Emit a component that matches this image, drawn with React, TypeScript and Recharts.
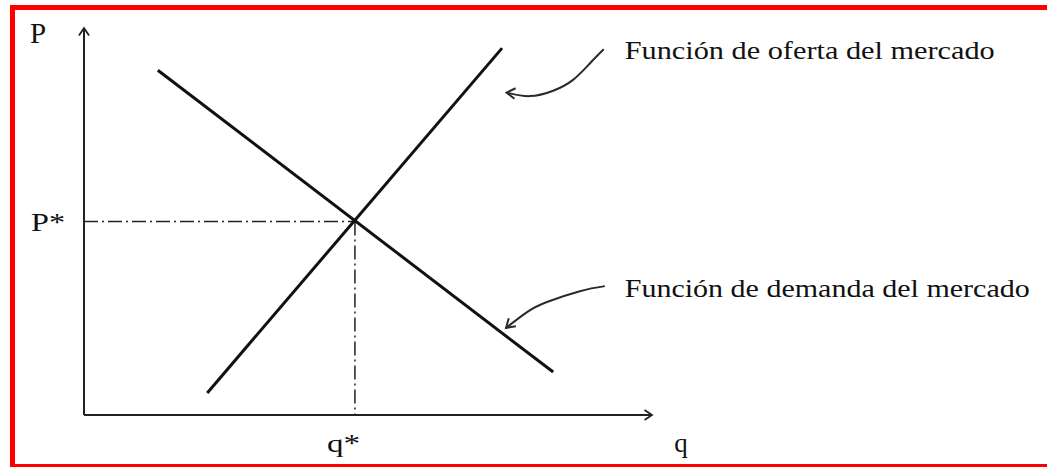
import React from "react";
import {
  ComposedChart,
  Line,
  XAxis,
  YAxis,
  ReferenceLine,
  ReferenceDot,
} from "recharts";

// ---- data (in chart units: q on x, P on y) ----
const Q_MAX = 10;
const P_MAX = 10;
const Q_STAR = 4.77;
const P_STAR = 5.0;

const supplyQ = [2.17, 7.36];
const supplyP = [0.57, 9.48];
const demandQ = [1.3, 8.26];
const demandP = [8.91, 1.11];

const supplyNoteQ = [9.15, 8.91, 8.61, 8.26, 7.85, 7.44];
const supplyNoteP = [9.45, 9.09, 8.66, 8.38, 8.24, 8.33];
const demandNoteQ = [9.17, 8.73, 8.15, 7.8, 7.43];
const demandNoteP = [3.33, 3.2, 2.92, 2.66, 2.25];

const supplyText = "Función de oferta del mercado";
const demandText = "Función de demanda del mercado";
const supplyTextPos = [9.52, 9.2];
const demandTextPos = [9.52, 3.05];
const pAxisLabel = "P";
const qAxisLabel = "q";
const pAxisLabelPos = [-0.81, 9.6];
const qAxisLabelPos = [10.51, -0.96];
const pStarLabel = "P*";
const qStarLabel = "q*";

const toRows = (qs: number[], ps: number[]) =>
  qs.map((q, i) => ({ q, p: ps[i] }));

const supplyData = toRows(supplyQ, supplyP);
const demandData = toRows(demandQ, demandP);
const supplyNoteData = toRows(supplyNoteQ, supplyNoteP);
const demandNoteData = toRows(demandNoteQ, demandNoteP);

const FONT = "Liberation Serif";
const INK = "#111";

const chevron = (cx: number, cy: number, deg: number, len: number, half: number) => {
  const t = (deg * Math.PI) / 180;
  const h = (half * Math.PI) / 180;
  const ax = cx - len * Math.cos(t + h);
  const ay = cy - len * Math.sin(t + h);
  const bx = cx - len * Math.cos(t - h);
  const by = cy - len * Math.sin(t - h);
  return `M${ax},${ay} L${cx},${cy} L${bx},${by}`;
};

const arrowDot = (count: number, deg: number) => (props: any) => {
  const { cx, cy, index } = props;
  if (index !== count - 1) return <g key={`d${index}`} />;
  return (
    <path
      key={`d${index}`}
      d={chevron(cx, cy, deg, 10, 32)}
      fill="none"
      stroke="#2a2a2a"
      strokeWidth={2}
    />
  );
};

const axisHead = (deg: number) => (props: any) => (
  <path
    d={chevron(props.cx, props.cy, deg, 9, 34)}
    fill="none"
    stroke="#222"
    strokeWidth={1.8}
  />
);

const textShape = (txt: string, size: number, anchor: string, length?: number) => (props: any) => (
  <text
    x={props.cx}
    y={props.cy}
    style={{ fontFamily: FONT }}
    fontSize={size}
    fill={INK}
    textAnchor={anchor}
    {...(length ? { textLength: length, lengthAdjust: "spacingAndGlyphs" } : {})}
  >
    {txt}
  </text>
);

const YTick = (props: any) => (
  <text
    x={props.x - 34}
    y={props.y + 9}
    style={{ fontFamily: FONT }}
    fontSize={25}
    fill={INK}
    textAnchor="start"
    textLength={34}
    lengthAdjust="spacingAndGlyphs"
  >
    {pStarLabel}
  </text>
);

const XTick = (props: any) => (
  <text
    x={props.x - 28}
    y={props.y}
    style={{ fontFamily: FONT }}
    fontSize={25}
    fill={INK}
    textAnchor="start"
    textLength={33}
    lengthAdjust="spacingAndGlyphs"
  >
    {qStarLabel}
  </text>
);

export default function App() {
  return (
    <div
      style={{
        position: "fixed",
        left: 0,
        top: 0,
        width: 1047,
        height: 467,
        overflow: "hidden",
        background: "#fff",
      }}
    >
      <div
        style={{
          position: "absolute",
          left: 10,
          top: 5,
          width: 1060,
          height: 464,
          border: "5px solid #ff0000",
          boxSizing: "border-box",
        }}
      />
      <div style={{ position: "absolute", left: 0, top: 0 }}>
        <ComposedChart
          width={1047}
          height={467}
          margin={{ top: 28, right: 395, bottom: 51, left: 83 }}
        >
          <XAxis
            dataKey="q"
            type="number"
            domain={[0, Q_MAX]}
            allowDataOverflow
            ticks={[Q_STAR]}
            tick={<XTick />}
            tickLine={false}
            tickSize={0}
            tickMargin={37}
            height={1}
            axisLine={{ stroke: "#222", strokeWidth: 2 }}
          />
          <YAxis
            dataKey="p"
            type="number"
            domain={[0, P_MAX]}
            allowDataOverflow
            ticks={[P_STAR]}
            tick={<YTick />}
            tickLine={false}
            tickSize={0}
            tickMargin={19}
            width={1}
            axisLine={{ stroke: "#222", strokeWidth: 2 }}
          />
          <ReferenceLine
            segment={[
              { x: 0, y: P_STAR },
              { x: Q_STAR, y: P_STAR },
            ]}
            stroke="#222"
            strokeWidth={1.5}
            strokeDasharray="14 4 2 4"
          />
          <ReferenceLine
            segment={[
              { x: Q_STAR, y: P_STAR },
              { x: Q_STAR, y: 0 },
            ]}
            stroke="#222"
            strokeWidth={1.5}
            strokeDasharray="14 4 2 4"
          />
          <Line
            data={supplyData}
            dataKey="p"
            type="linear"
            stroke={INK}
            strokeWidth={3}
            dot={false}
            activeDot={false}
            isAnimationActive={false}
          />
          <Line
            data={demandData}
            dataKey="p"
            type="linear"
            stroke={INK}
            strokeWidth={3}
            dot={false}
            activeDot={false}
            isAnimationActive={false}
          />
          <Line
            data={supplyNoteData}
            dataKey="p"
            type="natural"
            stroke="#2a2a2a"
            strokeWidth={2}
            dot={arrowDot(supplyNoteData.length, 186)}
            activeDot={false}
            isAnimationActive={false}
          />
          <Line
            data={demandNoteData}
            dataKey="p"
            type="natural"
            stroke="#2a2a2a"
            strokeWidth={2}
            dot={arrowDot(demandNoteData.length, 138)}
            activeDot={false}
            isAnimationActive={false}
          />
          <ReferenceDot x={Q_MAX} y={0} r={0} ifOverflow="visible" shape={axisHead(0)} />
          <ReferenceDot x={0} y={P_MAX} r={0} ifOverflow="visible" shape={axisHead(-90)} />
          <ReferenceDot
            x={supplyTextPos[0]}
            y={supplyTextPos[1]}
            r={0}
            ifOverflow="visible"
            shape={textShape(supplyText, 25, "start", 370)}
          />
          <ReferenceDot
            x={demandTextPos[0]}
            y={demandTextPos[1]}
            r={0}
            ifOverflow="visible"
            shape={textShape(demandText, 25, "start", 405)}
          />
          <ReferenceDot
            x={pAxisLabelPos[0]}
            y={pAxisLabelPos[1]}
            r={0}
            ifOverflow="visible"
            shape={textShape(pAxisLabel, 29, "middle")}
          />
          <ReferenceDot
            x={qAxisLabelPos[0]}
            y={qAxisLabelPos[1]}
            r={0}
            ifOverflow="visible"
            shape={textShape(qAxisLabel, 27, "middle")}
          />
        </ComposedChart>
      </div>
    </div>
  );
}
